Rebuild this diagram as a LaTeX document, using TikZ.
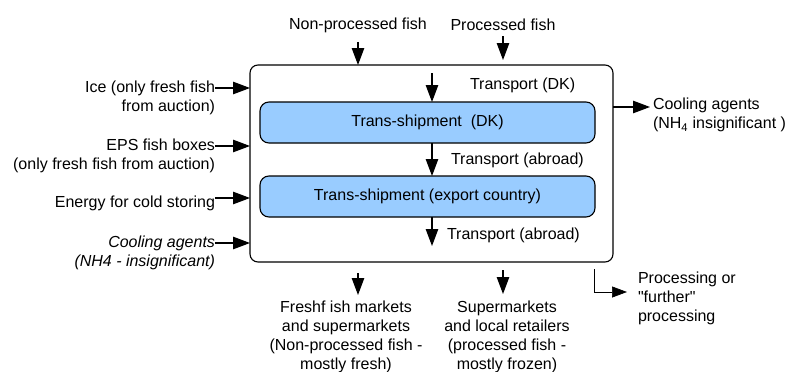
\documentclass[tikz,border=0pt]{standalone}
\usepackage{fontspec}
\setmainfont{Liberation Sans}
\usetikzlibrary{arrows.meta}
\definecolor{shipblue}{HTML}{99CCFF}
\tikzset{
	arr/.style={-{Triangle[length=17pt,width=12.5pt]}, line width=1.1pt},
	lbl/.style={inner sep=0pt, outer sep=0pt},
	stage/.style={draw, line width=1.1pt, fill=shipblue, rounded corners=9pt, minimum width=335pt, minimum height=41pt, inner sep=0pt, outer sep=0pt},
}

\begin{document}
\begin{tikzpicture}[x=1pt, y=-1pt, font=\fontsize{16}{19}\selectfont]
				%%%%% START %%%%%
				\useasboundingbox (0,0) rectangle (785,372);
				
				\node[draw, line width=1.1pt, rounded corners=8pt, minimum width=363pt, minimum height=197pt, inner sep=0pt, outer sep=0pt] (frame) at (431.5,163.5) {};
				
				\node[stage] (dk) at (427.5,122.5) {Trans-shipment\ \ (DK)};
				\node[stage] (export) at (427.5,196.5) {Trans-shipment (export country)};
				
				\coordinate (tin) at (432,73);
				\coordinate (tout) at (432,246);
				\draw[arr] (tin) -- (tin |- dk.north);
				\draw[arr] (tin |- dk.south) -- (tin |- export.north);
				\draw[arr] (tin |- export.south) -- (tout);
				\node[lbl, anchor=west] (tdk) at (470,85) {Transport (DK)};
				\node[lbl, anchor=west] (tabroad) at (451,160) {Transport (abroad)};
				\node[lbl, anchor=west] (tabroadb) at (447,235) {Transport (abroad)};
				
				\node[lbl] (nonproc) at (358,25) {Non-processed fish};
				\node[lbl] (proc) at (503,25) {Processed fish};
				\draw[arr] ([yshift=-9.5pt]nonproc.south) -- (nonproc.south |- frame.north);
				\draw[arr] ([yshift=-5.5pt]proc.south) -- ([yshift=5pt]proc.south |- frame.north);
				
				\node[lbl, anchor=east, align=right] (ice) at (215,97.5) {Ice (only fresh fish\\from auction)};
				\node[lbl, anchor=east, align=right] (eps) at (215,155.5) {EPS fish boxes\\(only fresh fish from auction)};
				\node[lbl, anchor=east] (energy) at (215,203) {Energy for cold storing};
				\node[lbl, anchor=east, align=right, font=\fontsize{16}{19}\selectfont\itshape] (coolin) at (215,252.5) {Cooling agents\\(NH4 - insignificant)};
				\draw[arr] ([yshift=9.5pt]ice.east) -- ([yshift=9.5pt]ice.east -| frame.west);
				\draw[arr] ([yshift=9.5pt]eps.east) -- ([yshift=9.5pt]eps.east -| frame.west);
				\draw[arr] ([yshift=5pt]energy.east) -- ([yshift=5pt]energy.east -| frame.west);
				\draw[arr] ([yshift=9.5pt]coolin.east) -- ([yshift=9.5pt]coolin.east -| frame.west);
				
				\node[lbl, anchor=west, align=left] (coolout) at (653,115) {Cooling agents\\(NH\textsubscript{4} insignificant )};
				\draw[arr] ([yshift=8pt]coolout.west -| frame.east) -- ([yshift=8pt, xshift=-3pt]coolout.west);
				
				\node[lbl, align=center] (fresh) at (346,336.5) {Freshf ish markets\\and supermarkets\\(Non-processed fish -\\mostly fresh)};
				\node[lbl, align=center] (super) at (507,336.5) {Supermarkets\\and local retailers\\(processed fish -\\mostly frozen)};
				\node[lbl, anchor=west, align=left] (further) at (638,298) {Processing or\\\textquotedbl further\textquotedbl\\processing};
				
				\coordinate (freshtip) at (358,295);
				\coordinate (supertip) at (503,294);
				\coordinate (procturn) at (594,292);
				\draw[arr] ([yshift=-11pt]frame.south -| freshtip) -- (freshtip);
				\draw[arr] ([yshift=-8pt]frame.south -| supertip) -- (supertip);
				\draw[line width=0.7pt, -{Triangle[length=15pt,width=11pt]}] ([yshift=-7pt]frame.south -| procturn) -- (procturn) -- ([xshift=-11pt]further.west |- procturn);
				%%%%% END %%%%%
\end{tikzpicture}
\end{document}
